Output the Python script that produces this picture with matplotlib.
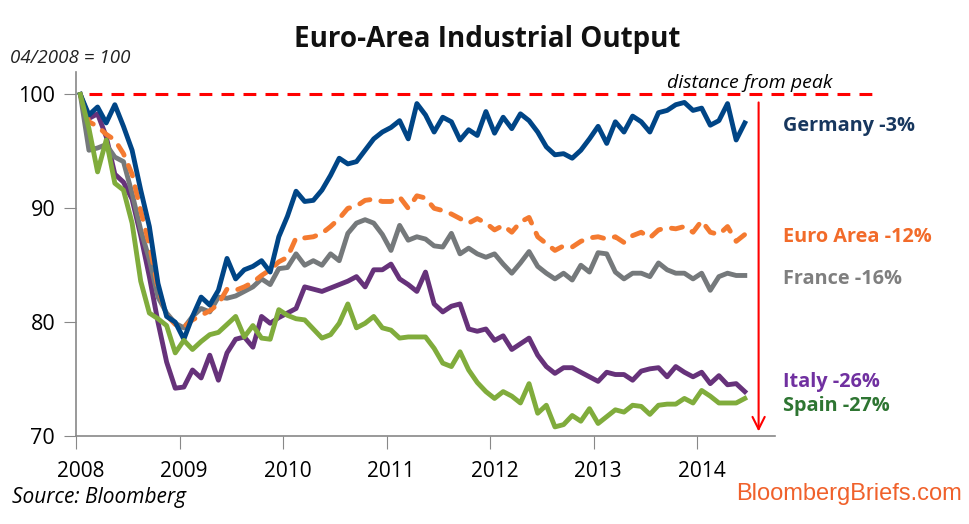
import numpy as np
import matplotlib
matplotlib.use("Agg")
import matplotlib.pyplot as plt

# monthly index, 04/2008 = 100 (Apr 2008 .. Sep 2014)
germany = [100, 98.2, 98.9, 97.5, 99.1, 97.2, 95.1, 91.6, 88.4, 83.4,
           80.5, 80.0, 78.5, 80.5, 82.2, 81.5, 82.8, 85.6, 83.8, 84.6,
           84.9, 85.4, 84.4, 87.5, 89.3, 91.5, 90.6, 90.7, 91.6, 92.9,
           94.4, 93.9, 94.1, 95.1, 96.1, 96.7, 97.1, 97.7, 96.1, 99.2,
           98.2, 96.7, 98.0, 97.6, 96.0, 96.9, 96.4, 98.5, 96.6, 98.0,
           97.0, 98.3, 97.7, 96.7, 95.4, 94.7, 94.8, 94.4, 95.1, 96.1,
           97.2, 95.7, 97.6, 96.7, 98.1, 97.6, 96.7, 98.4, 98.6, 99.1,
           99.3, 98.6, 98.8, 97.3, 97.7, 99.2, 96.0, 97.5]
euro_area = [100, 97.6, 97.2, 96.5, 96.0, 94.8, 93.0, 89.8, 86.8, 83.0,
             80.6, 79.8, 79.6, 80.2, 80.6, 81.0, 81.6, 82.9, 82.8, 83.1,
             83.5, 84.1, 84.6, 85.3, 85.7, 87.4, 87.4, 87.5, 87.8, 88.4,
             89.1, 90.0, 90.2, 90.7, 90.8, 90.6, 90.6, 91.0, 90.0, 91.1,
             90.9, 90.0, 89.8, 89.5, 89.1, 88.7, 89.1, 88.7, 88.1, 88.5,
             87.9, 88.8, 89.2, 87.5, 86.9, 86.3, 86.7, 86.6, 87.1, 87.4,
             87.5, 87.3, 87.5, 87.0, 87.6, 87.9, 87.4, 88.1, 88.3, 88.2,
             88.4, 87.9, 88.9, 87.9, 87.7, 88.4, 87.1, 87.7]
france = [100, 95.1, 95.3, 95.6, 94.5, 94.1, 91.3, 88.1, 85.5, 82.2,
          80.8, 79.9, 79.5, 80.5, 81.2, 80.9, 82.2, 82.1, 82.3, 82.7,
          83.1, 83.8, 83.3, 84.7, 84.8, 86.0, 85.0, 85.4, 85.0, 86.0,
          85.4, 87.8, 88.7, 89.0, 88.7, 87.7, 86.3, 88.5, 87.2, 87.5,
          87.3, 86.7, 86.6, 87.8, 86.0, 86.5, 86.0, 85.7, 86.0, 85.1,
          84.3, 85.2, 86.2, 84.9, 84.3, 83.8, 84.3, 83.7, 85.0, 84.4,
          86.1, 86.0, 84.4, 83.8, 84.3, 84.3, 84.0, 85.2, 84.6, 84.3,
          84.3, 83.8, 84.3, 82.8, 84.0, 84.3, 84.1, 84.1]
italy = [100, 97.9, 98.3, 96.3, 93.0, 92.3, 90.8, 87.6, 84.0, 80.0,
         76.5, 74.2, 74.3, 75.8, 75.1, 77.1, 74.9, 77.3, 78.5, 78.7,
         77.8, 80.5, 79.9, 80.4, 80.8, 81.2, 83.1, 82.9, 82.7, 83.0,
         83.3, 83.6, 84.0, 83.1, 84.6, 84.6, 85.1, 83.8, 83.3, 82.7,
         84.4, 81.6, 80.9, 81.4, 81.6, 79.4, 79.2, 79.4, 78.4, 78.8,
         77.6, 78.1, 78.6, 77.1, 76.1, 75.5, 76.0, 76.0, 75.6, 75.2,
         74.8, 75.6, 75.4, 75.4, 74.9, 75.7, 75.9, 76.0, 75.2, 76.1,
         75.6, 75.2, 75.6, 74.6, 75.3, 74.5, 74.6, 73.9]
spain = [100, 97.0, 93.2, 96.0, 92.2, 91.6, 88.7, 83.6, 80.8, 80.3,
         79.7, 77.3, 78.4, 77.6, 78.3, 78.9, 79.1, 79.8, 80.5, 78.7,
         79.7, 78.6, 78.5, 81.1, 80.6, 80.3, 80.2, 79.4, 78.6, 78.9,
         79.9, 81.6, 79.5, 79.9, 80.5, 79.5, 79.3, 78.6, 78.7, 78.7,
         78.7, 77.7, 76.4, 76.1, 77.4, 75.8, 74.7, 73.9, 73.3, 73.9,
         73.5, 72.9, 74.6, 72.0, 72.7, 70.8, 71.0, 71.8, 71.3, 72.4,
         71.1, 71.7, 72.3, 72.1, 72.7, 72.6, 71.9, 72.7, 72.8, 72.8,
         73.3, 72.9, 74.0, 73.5, 72.9, 72.9, 72.9, 73.3]

years = ["2008", "2009", "2010", "2011", "2012", "2013", "2014"]
yticks = [70, 80, 90, 100]

labels = ["Germany -3%", "Euro Area -12%", "France -16%", "Italy -26%", "Spain -27%"]
label_y = [97.2, 87.5, 83.8, 74.7, 72.6]
label_colors = ["#17375E", "#F26B2A", "#7F7F7F", "#7030A0", "#2E7532"]

c_de = "#004586"
c_ea = "#F47A30"
c_fr = "#75797B"
c_it = "#66327A"
c_es = "#80AC3C"

plt.rcParams["font.family"] = ["Open Sans", "DejaVu Sans"]

fig = plt.figure(figsize=(9.7, 5.24), dpi=100)
ax = fig.add_axes([76 / 970, 1 - 436 / 524, 699 / 970, 364.3 / 524])

x = np.arange(len(germany)) + 0.5
lw = 3.5
ax.plot(x, italy, color=c_it, lw=lw, solid_joinstyle="round", zorder=3)
ax.plot(x, france, color=c_fr, lw=lw, solid_joinstyle="round", zorder=4)
ax.plot(x, euro_area, color=c_ea, lw=lw, linestyle=(0, (2.3, 2.3)),
        dash_capstyle="round", zorder=5)
ax.plot(x, germany, color=c_de, lw=lw, solid_joinstyle="round", zorder=6)
ax.plot(x, spain, color=c_es, lw=lw, solid_joinstyle="round", zorder=7)

# peak line and "distance from peak" arrow
ax.plot([1.5, 93.1], [100, 100], color="#FF0000", lw=2.2,
        linestyle=(0, (4.2, 3.0)), clip_on=False, zorder=2)
ax.annotate("", xy=(79.1, 70.4), xytext=(79.1, 99.3),
            arrowprops=dict(arrowstyle="->", color="#FF0000", lw=1.5,
                            mutation_scale=22, shrinkA=0, shrinkB=0),
            annotation_clip=False)
ax.text(78.1, 101.0, "distance from peak", ha="center", va="center",
        fontsize=14, style="italic", color="black")

for lab, ly, lc in zip(labels, label_y, label_colors):
    ax.text(81.9, ly, lab, ha="left", va="center", fontsize=14.3,
            fontweight="bold", color=lc, clip_on=False)

ax.set_xlim(0, 81)
ax.set_ylim(70, 102)
ax.set_xticks(np.arange(len(years)) * 12)
ax.set_xticklabels([])
ax.set_xticks(np.arange(len(years)) * 12 + 0.5, minor=True)
ax.set_xticklabels(years, minor=True)
ax.tick_params(axis="x", which="major", length=9, color="#888888", direction="out")
ax.tick_params(axis="x", which="minor", length=0, pad=18, labelsize=15)
ax.set_yticks(yticks)
ax.set_yticklabels([str(v) for v in yticks])
ax.tick_params(axis="y", length=9, color="#888888", direction="out",
               pad=6, labelsize=15.5)
for s in ["top", "right"]:
    ax.spines[s].set_visible(False)
for s in ["left", "bottom"]:
    ax.spines[s].set_color("#888888")
    ax.spines[s].set_linewidth(1.2)

fig.text(0.502, 1 - 40 / 524, "Euro-Area Industrial Output", ha="center",
         va="center", fontsize=20, fontweight="bold", color="#111111")
fig.text(10 / 970, 1 - 58 / 524, "04/2008 = 100", ha="left", va="center",
         fontsize=13.5, style="italic", color="#222222")
fig.text(12 / 970, 1 - 498 / 524, "Source: Bloomberg", ha="left", va="center",
         fontsize=15, style="italic", color="black")
fig.text(962 / 970, 1 - 494 / 524, "BloombergBriefs.com", ha="right",
         va="center", fontsize=17, color="#F0612B",
         family=["Liberation Sans", "DejaVu Sans"])

fig.savefig("out.png", dpi=100, facecolor="white")
